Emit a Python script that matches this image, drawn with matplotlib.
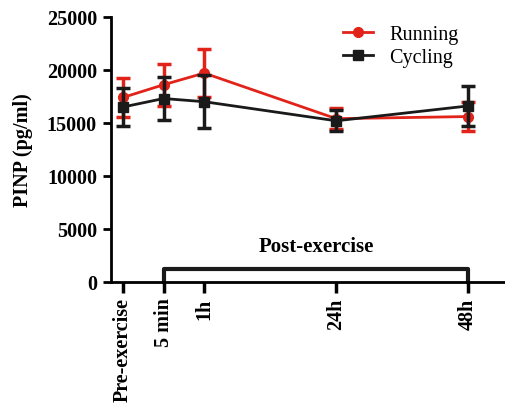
import matplotlib.pyplot as plt

plt.rcParams['font.family'] = ['Liberation Serif', 'DejaVu Serif']

# time points (custom spacing as in the original figure)
labels = ['Pre-exercise', '5 min', '1h', '24h', '48h']
positions = [0, 1, 2, 5.25, 8.5]

running = [17400, 18600, 19700, 15400, 15600]
running_err = [1800, 2000, 2300, 1000, 1400]
cycling = [16500, 17300, 17000, 15200, 16600]
cycling_err = [1750, 2000, 2500, 1000, 1850]

red = '#e2231a'
black = '#1a1a1a'
fs = 14.5

fig = plt.figure(figsize=(5.06, 4.06), dpi=100)
ax = fig.add_axes([0.219, 0.303, 0.781, 0.653])

r = ax.errorbar(positions, running, yerr=running_err, color=red, marker='o',
                markersize=7, linewidth=2, elinewidth=2.5, capsize=5, capthick=2.5,
                zorder=3)
c = ax.errorbar(positions, cycling, yerr=cycling_err, color=black, marker='s',
                markersize=7, linewidth=2, elinewidth=2.5, capsize=5, capthick=2.5,
                zorder=4)

ax.set_xlim(-0.3, 9.43)
ax.set_ylim(0, 25000)
ax.set_yticks(range(0, 25001, 5000))
ax.set_xticks(positions)
ax.set_xticklabels(labels, rotation=90, fontweight='bold', fontsize=fs)
for t in ax.get_yticklabels():
    t.set_fontweight('bold')
    t.set_fontsize(fs)
ax.set_ylabel('PINP (pg/ml)', fontweight='bold', fontsize=fs, labelpad=10)

for s in ('top', 'right'):
    ax.spines[s].set_visible(False)
for s in ('left', 'bottom'):
    ax.spines[s].set_linewidth(2)
ax.tick_params(axis='y', width=2, length=6, pad=4)
ax.tick_params(axis='x', width=2.5, length=8, pad=3)

# post-exercise bracket
bx = [positions[1], positions[1], positions[-1], positions[-1]]
by = [0, 1200, 1200, 0]
ax.plot(bx, by, color=black, linewidth=3, clip_on=False, zorder=2)
ax.text((positions[1] + positions[-1]) / 2, 2450, 'Post-exercise',
        ha='center', va='bottom', fontweight='bold', fontsize=15)

ax.legend([r[0], c[0]], ['Running', 'Cycling'], loc='upper left',
          bbox_to_anchor=(0.678, 0.937), bbox_transform=fig.transFigure,
          frameon=False, fontsize=fs, borderpad=0, borderaxespad=0,
          handlelength=1.5, handletextpad=0.8, labelspacing=0.2)

fig.savefig('out.png', dpi=100)
